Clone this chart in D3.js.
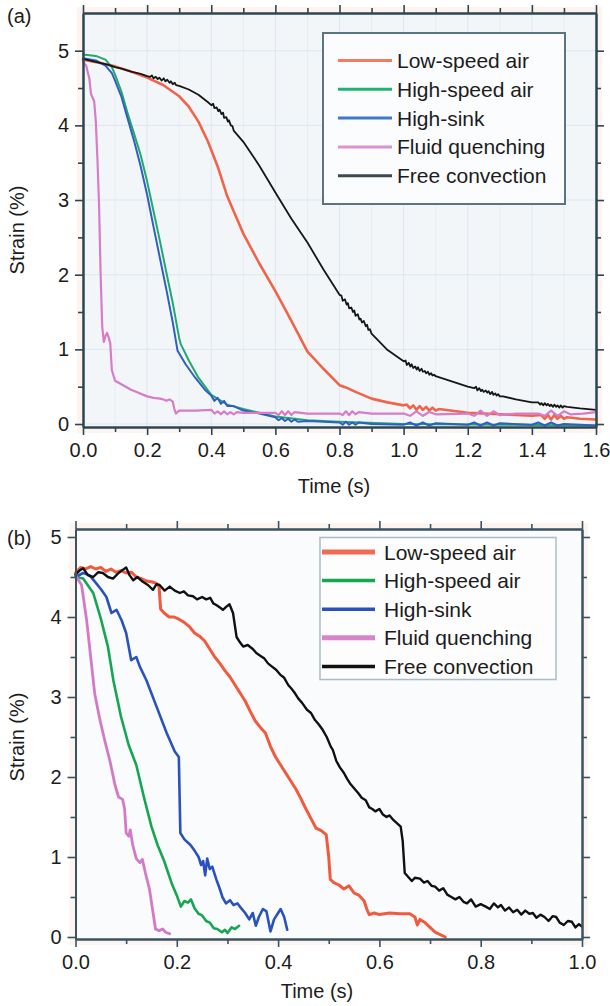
<!DOCTYPE html>
<html><head><meta charset="utf-8">
<script src="https://cdn.jsdelivr.net/npm/d3@7"></script>
<style>
body{margin:0;background:#fff;}
text{font-family:"Liberation Sans",Arial,Helvetica,sans-serif;fill:#1c1c1c;}
</style>
</head><body>
<svg id="chart" width="610" height="1006"></svg>
<script>
// ---------- data ----------
const seriesNames = ["Low-speed air","High-speed air","High-sink","Fluid quenching","Free convection"];
const xTicksA = [0,0.2,0.4,0.6,0.8,1.0,1.2,1.4,1.6];
const xMinorA = [0.1,0.3,0.5,0.7,0.9,1.1,1.3,1.5];
const xTicksB = [0,0.2,0.4,0.6,0.8,1.0];
const xMinorB = [0.1,0.3,0.5,0.7,0.9];
const yTicks = [0,1,2,3,4,5];
const yMinor = [0.5,1.5,2.5,3.5,4.5];

// Panel (a)
const aLowSpeed = [[0,4.88],[0.05,4.84],[0.1,4.79],[0.15,4.72],[0.2,4.64],[0.25,4.54],[0.3,4.39],[0.33,4.25],[0.36,4.05],[0.39,3.78],[0.42,3.45],[0.45,3.05],[0.48,2.75],[0.5,2.55],[0.55,2.15],[0.6,1.78],[0.65,1.38],[0.7,0.97],[0.72,0.88],[0.75,0.74],[0.8,0.52],[0.82,0.49],[0.85,0.43],[0.9,0.34],[0.95,0.29],[1.0,0.25],[1.01,0.26],[1.02,0.21],[1.03,0.25],[1.04,0.19],[1.05,0.24],[1.06,0.19],[1.07,0.23],[1.08,0.18],[1.09,0.22],[1.1,0.18],[1.11,0.2],[1.2,0.15],[1.3,0.13],[1.4,0.11],[1.43,0.12],[1.44,0.07],[1.45,0.12],[1.46,0.06],[1.47,0.12],[1.48,0.07],[1.49,0.11],[1.5,0.07],[1.51,0.09],[1.55,0.07],[1.6,0.06]];
const aHighSpeed = [[0,4.95],[0.04,4.93],[0.07,4.88],[0.09,4.78],[0.1,4.68],[0.12,4.45],[0.14,4.15],[0.16,3.88],[0.18,3.6],[0.2,3.25],[0.22,2.85],[0.24,2.45],[0.26,2.03],[0.28,1.62],[0.3,1.15],[0.305,1.07],[0.33,0.85],[0.36,0.62],[0.4,0.39],[0.45,0.26],[0.5,0.2],[0.55,0.15],[0.6,0.1],[0.7,0.05],[0.8,0.03],[1.0,0.0],[1.3,-0.01],[1.6,-0.02]];
const aHighSink = [[0,4.9],[0.04,4.87],[0.07,4.8],[0.09,4.7],[0.1,4.6],[0.12,4.38],[0.14,4.08],[0.16,3.78],[0.18,3.45],[0.2,3.07],[0.22,2.64],[0.24,2.22],[0.26,1.8],[0.28,1.36],[0.295,0.98],[0.32,0.8],[0.35,0.62],[0.38,0.46],[0.4,0.38],[0.41,0.31],[0.42,0.35],[0.43,0.27],[0.44,0.31],[0.45,0.24],[0.47,0.24],[0.5,0.18],[0.55,0.14],[0.6,0.09],[0.61,0.05],[0.62,0.08],[0.63,0.04],[0.64,0.07],[0.65,0.03],[0.66,0.06],[0.67,0.03],[0.7,0.04],[0.8,0.02],[0.81,-0.01],[0.82,0.03],[0.83,-0.01],[0.84,0.02],[0.85,-0.01],[0.86,0.02],[0.9,0.0],[1.0,-0.01],[1.02,0.02],[1.04,-0.02],[1.06,0.02],[1.08,-0.02],[1.1,0.01],[1.2,-0.01],[1.22,0.02],[1.24,-0.02],[1.26,0.02],[1.28,-0.02],[1.3,0.01],[1.4,-0.01],[1.42,0.02],[1.44,-0.02],[1.46,0.02],[1.48,-0.02],[1.5,0.0],[1.6,-0.02]];
const aFluid = [[0,4.85],[0.01,4.8],[0.02,4.62],[0.025,4.42],[0.03,4.37],[0.035,4.32],[0.04,4.05],[0.045,3.55],[0.05,2.95],[0.055,2.0],[0.06,1.3],[0.065,1.1],[0.07,1.18],[0.075,1.22],[0.08,1.16],[0.085,1.08],[0.09,0.72],[0.1,0.58],[0.15,0.46],[0.2,0.37],[0.22,0.35],[0.24,0.34],[0.25,0.33],[0.26,0.31],[0.27,0.33],[0.28,0.3],[0.285,0.2],[0.29,0.14],[0.3,0.18],[0.35,0.18],[0.4,0.19],[0.41,0.14],[0.42,0.17],[0.43,0.13],[0.44,0.17],[0.45,0.13],[0.46,0.16],[0.47,0.13],[0.48,0.16],[0.5,0.15],[0.6,0.15],[0.61,0.12],[0.62,0.17],[0.63,0.12],[0.64,0.17],[0.65,0.12],[0.66,0.16],[0.7,0.14],[0.8,0.14],[0.81,0.12],[0.82,0.17],[0.83,0.12],[0.84,0.17],[0.85,0.13],[0.86,0.16],[0.9,0.14],[1.0,0.14],[1.02,0.11],[1.04,0.17],[1.06,0.11],[1.08,0.16],[1.1,0.13],[1.2,0.14],[1.22,0.11],[1.24,0.18],[1.26,0.11],[1.28,0.17],[1.3,0.12],[1.35,0.14],[1.42,0.14],[1.44,0.11],[1.46,0.18],[1.48,0.11],[1.5,0.17],[1.52,0.13],[1.56,0.14],[1.6,0.16]];
const aFree = [[0,4.89],[0.02,4.87],[0.04,4.85],[0.06,4.83],[0.08,4.81],[0.1,4.78],[0.12,4.76],[0.15,4.72],[0.18,4.69],[0.2,4.66],[0.21,4.65],[0.215,4.67],[0.22,4.63],[0.227,4.65],[0.233,4.62],[0.238,4.64],[0.245,4.6],[0.252,4.63],[0.257,4.59],[0.263,4.61],[0.27,4.57],[0.274,4.59],[0.28,4.55],[0.286,4.57],[0.29,4.54],[0.3,4.53],[0.33,4.48],[0.36,4.41],[0.39,4.31],[0.4,4.27],[0.406,4.29],[0.41,4.23],[0.417,4.24],[0.422,4.19],[0.426,4.21],[0.432,4.15],[0.437,4.17],[0.44,4.1],[0.447,4.11],[0.452,4.05],[0.455,4.07],[0.461,4.0],[0.466,3.99],[0.47,3.93],[0.5,3.78],[0.55,3.46],[0.6,3.1],[0.65,2.75],[0.7,2.43],[0.75,2.07],[0.8,1.73],[0.806,1.72],[0.81,1.65],[0.817,1.67],[0.822,1.6],[0.826,1.62],[0.83,1.55],[0.837,1.56],[0.842,1.5],[0.846,1.52],[0.85,1.45],[0.857,1.47],[0.862,1.4],[0.866,1.41],[0.87,1.36],[0.876,1.38],[0.882,1.31],[0.886,1.33],[0.89,1.26],[0.895,1.27],[0.9,1.21],[0.95,0.99],[1.0,0.84],[1.006,0.85],[1.01,0.79],[1.016,0.82],[1.021,0.77],[1.025,0.8],[1.03,0.75],[1.036,0.77],[1.041,0.73],[1.045,0.76],[1.05,0.71],[1.056,0.74],[1.06,0.7],[1.066,0.71],[1.07,0.68],[1.076,0.7],[1.08,0.66],[1.086,0.68],[1.09,0.65],[1.095,0.66],[1.1,0.64],[1.15,0.57],[1.2,0.5],[1.22,0.48],[1.226,0.5],[1.23,0.45],[1.236,0.48],[1.241,0.44],[1.245,0.46],[1.25,0.43],[1.256,0.45],[1.261,0.42],[1.265,0.44],[1.27,0.4],[1.276,0.43],[1.28,0.39],[1.286,0.41],[1.29,0.38],[1.295,0.4],[1.3,0.37],[1.31,0.37],[1.35,0.33],[1.4,0.29],[1.42,0.29],[1.426,0.26],[1.43,0.28],[1.436,0.25],[1.44,0.28],[1.446,0.25],[1.45,0.27],[1.456,0.24],[1.46,0.26],[1.466,0.23],[1.47,0.26],[1.476,0.23],[1.48,0.25],[1.486,0.22],[1.49,0.25],[1.496,0.22],[1.5,0.24],[1.51,0.23],[1.55,0.21],[1.6,0.19]];

// Panel (b)
const bLowSpeed = [[0,4.55],[0.01,4.62],[0.02,4.6],[0.03,4.63],[0.04,4.6],[0.05,4.62],[0.06,4.57],[0.07,4.6],[0.08,4.56],[0.09,4.58],[0.1,4.55],[0.11,4.56],[0.12,4.5],[0.13,4.48],[0.14,4.45],[0.15,4.44],[0.16,4.42],[0.165,4.38],[0.168,4.1],[0.175,4.05],[0.185,4.0],[0.195,4.0],[0.205,3.97],[0.215,3.93],[0.225,3.88],[0.235,3.8],[0.245,3.76],[0.255,3.7],[0.265,3.6],[0.275,3.5],[0.285,3.42],[0.295,3.33],[0.305,3.25],[0.315,3.15],[0.325,3.05],[0.335,2.95],[0.345,2.82],[0.355,2.7],[0.365,2.62],[0.375,2.55],[0.385,2.38],[0.395,2.25],[0.405,2.15],[0.415,2.05],[0.425,1.95],[0.435,1.85],[0.445,1.73],[0.455,1.6],[0.465,1.48],[0.475,1.36],[0.485,1.33],[0.495,1.28],[0.5,1.0],[0.503,0.72],[0.51,0.68],[0.52,0.65],[0.53,0.6],[0.54,0.64],[0.55,0.55],[0.56,0.52],[0.57,0.45],[0.575,0.35],[0.58,0.28],[0.59,0.3],[0.6,0.28],[0.62,0.3],[0.64,0.29],[0.66,0.29],[0.67,0.25],[0.675,0.15],[0.68,0.22],[0.69,0.18],[0.7,0.12],[0.71,0.06],[0.72,0.03],[0.73,0.0]];
const bHighSpeed = [[0,4.5],[0.015,4.48],[0.035,4.3],[0.05,3.98],[0.064,3.63],[0.075,3.2],[0.09,2.75],[0.105,2.4],[0.12,2.15],[0.135,1.75],[0.15,1.38],[0.162,1.15],[0.175,0.95],[0.19,0.67],[0.2,0.52],[0.208,0.38],[0.215,0.45],[0.222,0.43],[0.228,0.47],[0.235,0.36],[0.243,0.29],[0.25,0.27],[0.258,0.2],[0.265,0.18],[0.273,0.11],[0.28,0.1],[0.289,0.06],[0.295,0.09],[0.3,0.05],[0.308,0.12],[0.315,0.1],[0.323,0.14]];
const bHighSink = [[0,4.5],[0.015,4.55],[0.028,4.52],[0.041,4.42],[0.051,4.34],[0.061,4.25],[0.071,4.05],[0.081,4.09],[0.091,3.96],[0.1,3.8],[0.11,3.46],[0.12,3.5],[0.127,3.38],[0.14,3.21],[0.16,2.88],[0.18,2.55],[0.196,2.32],[0.204,2.25],[0.207,1.3],[0.215,1.22],[0.227,1.15],[0.235,1.08],[0.243,1.0],[0.248,0.9],[0.252,0.95],[0.256,0.77],[0.26,0.98],[0.265,0.85],[0.27,0.88],[0.278,0.72],[0.285,0.6],[0.29,0.5],[0.297,0.42],[0.305,0.46],[0.312,0.4],[0.32,0.42],[0.327,0.36],[0.335,0.3],[0.343,0.22],[0.35,0.3],[0.356,0.14],[0.362,0.25],[0.37,0.35],[0.377,0.32],[0.385,0.07],[0.392,0.22],[0.4,0.3],[0.405,0.35],[0.412,0.25],[0.418,0.09]];
const bFluid = [[0,4.52],[0.012,4.4],[0.022,3.96],[0.03,3.5],[0.038,3.04],[0.048,2.72],[0.058,2.45],[0.068,2.2],[0.078,1.9],[0.085,1.75],[0.093,1.72],[0.097,1.6],[0.1,1.3],[0.105,1.26],[0.108,1.34],[0.113,1.15],[0.12,0.98],[0.127,0.93],[0.132,0.97],[0.138,0.8],[0.146,0.6],[0.152,0.35],[0.158,0.1],[0.165,0.08],[0.172,0.1],[0.178,0.06],[0.186,0.04]];
const bFree = [[0,4.53],[0.008,4.58],[0.015,4.61],[0.025,4.52],[0.035,4.5],[0.045,4.56],[0.054,4.55],[0.064,4.5],[0.074,4.48],[0.085,4.55],[0.1,4.62],[0.107,4.52],[0.114,4.46],[0.122,4.5],[0.133,4.44],[0.143,4.4],[0.153,4.34],[0.16,4.41],[0.166,4.4],[0.176,4.33],[0.186,4.38],[0.196,4.33],[0.206,4.3],[0.214,4.32],[0.222,4.27],[0.232,4.26],[0.24,4.22],[0.25,4.25],[0.258,4.22],[0.266,4.24],[0.272,4.17],[0.278,4.15],[0.285,4.12],[0.291,4.09],[0.298,4.13],[0.304,4.16],[0.311,4.05],[0.318,3.75],[0.325,3.68],[0.331,3.63],[0.34,3.65],[0.35,3.6],[0.357,3.55],[0.364,3.52],[0.373,3.48],[0.38,3.42],[0.388,3.38],[0.396,3.34],[0.404,3.28],[0.412,3.24],[0.42,3.15],[0.427,3.1],[0.434,3.04],[0.44,2.98],[0.447,2.93],[0.457,2.84],[0.465,2.8],[0.472,2.72],[0.48,2.66],[0.488,2.59],[0.496,2.5],[0.504,2.38],[0.508,2.34],[0.515,2.2],[0.522,2.12],[0.53,2.05],[0.536,1.98],[0.542,1.92],[0.55,1.86],[0.558,1.8],[0.565,1.74],[0.573,1.71],[0.58,1.62],[0.586,1.6],[0.592,1.57],[0.6,1.6],[0.607,1.53],[0.614,1.5],[0.62,1.52],[0.628,1.46],[0.635,1.42],[0.642,1.38],[0.646,1.2],[0.65,0.8],[0.657,0.75],[0.664,0.7],[0.67,0.74],[0.68,0.73],[0.688,0.68],[0.695,0.7],[0.703,0.64],[0.71,0.63],[0.718,0.58],[0.726,0.61],[0.734,0.53],[0.742,0.5],[0.75,0.47],[0.758,0.5],[0.766,0.44],[0.773,0.42],[0.781,0.47],[0.79,0.38],[0.8,0.41],[0.81,0.38],[0.818,0.35],[0.826,0.42],[0.834,0.37],[0.84,0.4],[0.848,0.33],[0.856,0.37],[0.864,0.31],[0.872,0.34],[0.88,0.28],[0.888,0.33],[0.896,0.29],[0.903,0.3],[0.91,0.24],[0.918,0.28],[0.926,0.25],[0.934,0.2],[0.942,0.26],[0.949,0.25],[0.956,0.18],[0.964,0.15],[0.972,0.2],[0.98,0.19],[0.987,0.12],[0.994,0.16],[1.0,0.13]];

// ---------- drawing ----------
const svg = d3.select("#chart");
const defs = svg.append("defs");
defs.append("filter").attr("id","soft").attr("filterUnits","userSpaceOnUse")
  .attr("x",0).attr("y",0).attr("width",610).attr("height",1006)
  .append("feGaussianBlur").attr("stdDeviation",0.7);

function panel(cfg){
  const x = d3.scaleLinear().domain(cfg.xDomain).range([cfg.left, cfg.right]);
  const y = d3.scaleLinear().domain(cfg.yDomain).range([cfg.bottom, cfg.top]);
  const g = svg.append("g");
  // faint warm halo around the frame
  g.append("rect").attr("x",cfg.left-6).attr("y",cfg.top-6)
    .attr("width",cfg.right-cfg.left+12).attr("height",cfg.bottom-cfg.top+12)
    .attr("fill","#fdf4f0");
  g.append("rect").attr("x",cfg.left).attr("y",cfg.top)
    .attr("width",cfg.right-cfg.left).attr("height",cfg.bottom-cfg.top)
    .attr("fill",cfg.bg);
  // grid
  if(cfg.grid){
    g.selectAll(".gx").data(cfg.xTicks.concat(cfg.xMinor)).join("line")
      .attr("x1",d=>x(d)).attr("x2",d=>x(d)).attr("y1",cfg.top).attr("y2",cfg.bottom)
      .attr("stroke",cfg.grid).attr("stroke-width",d=>cfg.xTicks.includes(d)?1:0.6);
    g.selectAll(".gy").data(yTicks).join("line")
      .attr("y1",d=>y(d)).attr("y2",d=>y(d)).attr("x1",cfg.left).attr("x2",cfg.right)
      .attr("stroke",cfg.grid).attr("stroke-width",1);
  }
  // series
  const line = d3.line().x(d=>x(d[0])).y(d=>y(d[1]));
  cfg.series.forEach(s=>{
    g.append("path").datum(s.data).attr("d",line)
      .attr("fill","none").attr("stroke",s.color).attr("stroke-width",s.width)
      .attr("stroke-linejoin","round").attr("stroke-linecap","round")
      .attr("filter",s.blur?"url(#soft)":null);
  });
  // axes
  const axCol = cfg.axis;
  function styleAxis(sel){
    sel.select(".domain").attr("stroke",axCol).attr("stroke-width",2);
    sel.selectAll(".tick line").attr("stroke",axCol).attr("stroke-width",1.6);
    sel.selectAll("text").attr("font-size",20).attr("fill","#1c1c1c")
      .attr("font-family",'"Liberation Sans",Arial,sans-serif');
  }
  const fx = d3.format(".1f");
  g.append("g").attr("transform",`translate(0,${cfg.bottom})`)
    .call(d3.axisBottom(x).tickValues(cfg.xMinor).tickSize(5).tickFormat("").tickSizeOuter(0)).call(styleAxis);
  g.append("g").attr("transform",`translate(0,${cfg.bottom})`)
    .call(d3.axisBottom(x).tickValues(cfg.xTicks).tickSize(8).tickPadding(8).tickFormat(fx).tickSizeOuter(0)).call(styleAxis);
  g.append("g").attr("transform",`translate(0,${cfg.top})`)
    .call(d3.axisTop(x).tickValues(cfg.xMinor).tickSize(5).tickFormat("").tickSizeOuter(0)).call(styleAxis);
  g.append("g").attr("transform",`translate(0,${cfg.top})`)
    .call(d3.axisTop(x).tickValues(cfg.xTicks).tickSize(8).tickFormat("").tickSizeOuter(0)).call(styleAxis);
  g.append("g").attr("transform",`translate(${cfg.left},0)`)
    .call(d3.axisLeft(y).tickValues(yMinor).tickSize(5).tickFormat("").tickSizeOuter(0)).call(styleAxis);
  g.append("g").attr("transform",`translate(${cfg.left},0)`)
    .call(d3.axisLeft(y).tickValues(yTicks).tickSize(8).tickPadding(cfg.yPad).tickFormat(d3.format("d")).tickSizeOuter(0)).call(styleAxis);
  g.append("g").attr("transform",`translate(${cfg.right},0)`)
    .call(d3.axisRight(y).tickValues(yMinor).tickSize(5).tickFormat("").tickSizeOuter(0)).call(styleAxis);
  g.append("g").attr("transform",`translate(${cfg.right},0)`)
    .call(d3.axisRight(y).tickValues(yTicks).tickSize(8).tickFormat("").tickSizeOuter(0)).call(styleAxis);

  // labels
  g.append("text").attr("x",7).attr("y",cfg.tagY).attr("font-size",20).text(cfg.tag);
  g.append("text").attr("x",cfg.xLabelX).attr("y",cfg.xLabelY).attr("text-anchor","middle")
    .attr("font-size",20).text("Time (s)");
  g.append("text").attr("transform",`translate(24,${cfg.yLabelY}) rotate(-90)`)
    .attr("text-anchor","middle").attr("font-size",20).text("Strain (%)");

  // legend
  const L = cfg.legend;
  g.append("rect").attr("x",L.x).attr("y",L.y).attr("width",L.w).attr("height",L.h)
    .attr("fill",L.fill).attr("stroke",L.stroke).attr("stroke-width",L.sw);
  cfg.series.forEach((s,i)=>{
    const yy = L.row0 + i*L.dy;
    g.append("line").attr("x1",L.lx1).attr("x2",L.lx2).attr("y1",yy).attr("y2",yy)
      .attr("stroke",s.legendColor||s.color).attr("stroke-width",s.legendWidth||3)
      .attr("filter",s.blur?"url(#soft)":null);
    g.append("text").attr("x",L.tx).attr("y",yy).attr("dy","0.36em")
      .attr("font-size",L.fs).text(seriesNames[i]);
  });
}

panel({
  left:83, right:596, top:13, bottom:427,
  xDomain:[0,1.6], yDomain:[-0.04,5.505],
  xTicks:xTicksA, xMinor:xMinorA, bg:"#f3f6f9", grid:"#dde7ef", axis:"#2d4652", yPad:6,
  tag:"(a)", tagY:23, xLabelX:334, xLabelY:493, yLabelY:230,
  series:[
    {data:aLowSpeed, color:"#f2644a", width:2.6, blur:true, legendColor:"#f47a62", legendWidth:3},
    {data:aHighSpeed, color:"#1faa6c", width:2, legendColor:"#22b273", legendWidth:3},
    {data:aHighSink, color:"#2f5fc2", width:2, legendColor:"#3f78cc", legendWidth:3},
    {data:aFluid, color:"#d77cc8", width:2.2, legendColor:"#dc92d2", legendWidth:3},
    {data:aFree, color:"#161616", width:1.8, legendColor:"#3c4a50", legendWidth:3}
  ],
  legend:{x:323, y:33, w:242, h:171, fill:"#fbfcfe", stroke:"#5c7480", sw:2,
    row0:60.5, dy:28.8, lx1:338, lx2:392, tx:397, fs:21}
});

panel({
  left:75.5, right:582, top:529, bottom:939,
  xDomain:[0,1.0], yDomain:[-0.025,5.1],
  xTicks:xTicksB, xMinor:xMinorB, bg:"#f9fbfd", grid:null, axis:"#3a5362", yPad:6,
  tag:"(b)", tagY:545, xLabelX:317, xLabelY:998, yLabelY:737,
  series:[
    {data:bLowSpeed, color:"#f25a3c", width:3, blur:true, legendColor:"#f26b52", legendWidth:5},
    {data:bHighSpeed, color:"#14a650", width:2.6, legendColor:"#14a650", legendWidth:3.5},
    {data:bHighSink, color:"#2a52be", width:2.6, legendColor:"#2a52be", legendWidth:3.5},
    {data:bFluid, color:"#d27ac8", width:2.8, legendColor:"#d884cc", legendWidth:5},
    {data:bFree, color:"#111111", width:2.4, legendColor:"#111111", legendWidth:3.5}
  ],
  legend:{x:320, y:537.5, w:236, h:142, fill:"#fdfdfe", stroke:"#a9bcc8", sw:1.5,
    row0:552, dy:28.6, lx1:322, lx2:375, tx:384, fs:21}
});
</script>
</body></html>
